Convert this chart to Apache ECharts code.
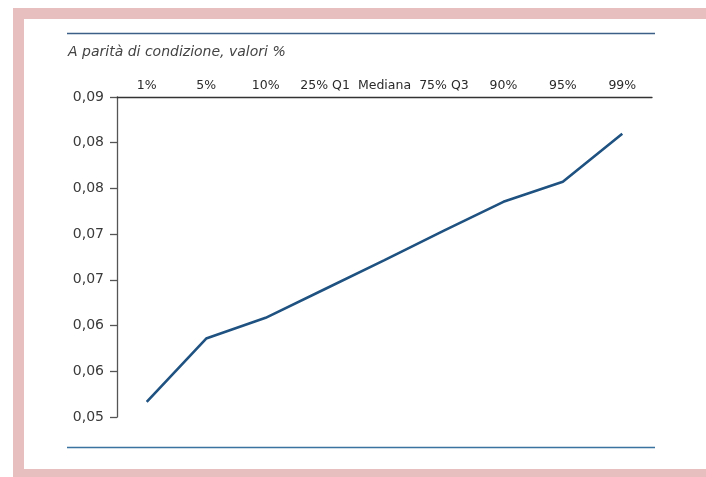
<!DOCTYPE html>
<html>
<head>
<meta charset="utf-8">
<script src="https://cdn.jsdelivr.net/npm/echarts@6/dist/echarts.min.js"></script>
<style>
  html, body { margin: 0; padding: 0; background: #ffffff; }
  #chart { width: 706px; height: 477px; }
</style>
</head>
<body>
<div id="chart"></div>
<script>
// Percentili della distribuzione
const categories = ['1%', '5%', '10%', '25% Q1', 'Mediana', '75% Q3', '90%', '95%', '99%'];
const values = [0.0519, 0.0598, 0.0624, 0.0660, 0.0696, 0.0733, 0.0769, 0.0794, 0.0854];
const yMin = 0.05;
const yMax = 0.09;
const ySteps = 7;
const titleText = 'A parità di condizione, valori %';

const FONT = '"DejaVu Sans", sans-serif';
const pink = '#e8bfbf';

const chart = echarts.init(document.getElementById('chart'), null, { renderer: 'canvas' });

chart.setOption({
  backgroundColor: '#ffffff',
  animation: false,
  title: {
    text: titleText,
    left: 63,
    top: 40,
    textStyle: {
      fontFamily: FONT,
      fontStyle: 'italic',
      fontWeight: 'normal',
      fontSize: 14,
      color: '#444444'
    }
  },
  graphic: [
    // cornice rosa
    { type: 'rect', shape: { x: 13, y: 8, width: 693, height: 11 }, style: { fill: pink } },
    { type: 'rect', shape: { x: 13, y: 8, width: 11, height: 469 }, style: { fill: pink } },
    { type: 'rect', shape: { x: 13, y: 469, width: 693, height: 8 }, style: { fill: pink } },
    // filetti orizzontali
    { type: 'line', shape: { x1: 67, y1: 33.5, x2: 655, y2: 33.5 }, style: { stroke: '#3b5f86', lineWidth: 1.3 } },
    { type: 'line', shape: { x1: 67, y1: 447.5, x2: 655, y2: 447.5 }, style: { stroke: '#3a72a0', lineWidth: 1.4 } }
  ],
  grid: { left: 117, top: 97, right: 54, bottom: 60, containLabel: false },
  xAxis: {
    type: 'category',
    data: categories,
    position: 'top',
    boundaryGap: true,
    axisLine: { show: true, lineStyle: { color: '#333333', width: 1.3 } },
    axisTick: { show: false },
    axisLabel: {
      interval: 0,
      margin: 5,
      fontFamily: FONT,
      fontSize: 12.5,
      color: '#2a2a2a'
    },
    splitLine: { show: false }
  },
  yAxis: {
    type: 'value',
    min: yMin,
    max: yMax,
    interval: (yMax - yMin) / ySteps,
    axisLine: { show: true, lineStyle: { color: '#555555', width: 1.3 } },
    axisTick: { show: true, length: 7, lineStyle: { color: '#555555', width: 1.3 } },
    axisLabel: {
      margin: 13,
      fontFamily: FONT,
      fontSize: 14,
      color: '#3a3a3a',
      formatter: v => v.toFixed(2).replace('.', ',')
    },
    splitLine: { show: false }
  },
  series: [{
    type: 'line',
    data: values,
    symbol: 'none',
    lineStyle: { color: '#1f5280', width: 2.6 }
  }]
});
</script>
</body>
</html>
